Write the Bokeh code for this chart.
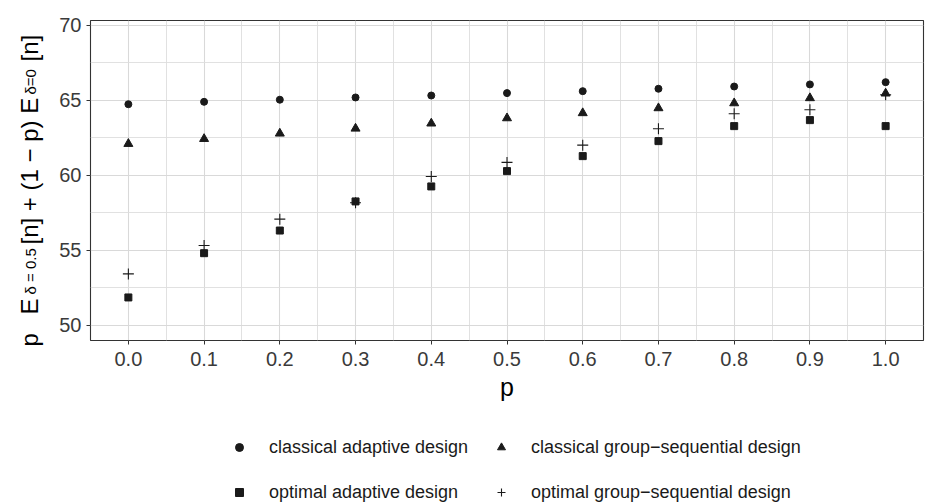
import math
from bokeh.plotting import figure
from bokeh.layouts import column, row
from bokeh.models import Range1d, FixedTicker, Legend, LegendItem, Label, NumeralTickFormatter
from bokeh.embed import file_html
from bokeh.resources import INLINE

# ---- data ----
p_values = [0.0, 0.1, 0.2, 0.3, 0.4, 0.5, 0.6, 0.7, 0.8, 0.9, 1.0]
classical_adaptive = [64.75, 64.91, 65.05, 65.20, 65.33, 65.49, 65.62, 65.78, 65.93, 66.07, 66.22]
classical_group_sequential = [62.11, 62.44, 62.80, 63.13, 63.47, 63.82, 64.16, 64.49, 64.82, 65.16, 65.47]
optimal_adaptive = [51.87, 54.82, 56.33, 58.27, 59.27, 60.29, 61.29, 62.29, 63.29, 63.69, 63.29]
optimal_group_sequential = [53.44, 55.33, 57.09, 58.18, 59.93, 60.87, 62.02, 63.11, 64.11, 64.38, 65.38]

series_labels = ["classical adaptive design", "classical group\u2212sequential design",
                 "optimal adaptive design", "optimal group\u2212sequential design"]

x_ticks = [0.0, 0.1, 0.2, 0.3, 0.4, 0.5, 0.6, 0.7, 0.8, 0.9, 1.0]
x_tick_labels = ["0.0", "0.1", "0.2", "0.3", "0.4", "0.5", "0.6", "0.7", "0.8", "0.9", "1.0"]
x_minor = [0.05, 0.15, 0.25, 0.35, 0.45, 0.55, 0.65, 0.75, 0.85, 0.95]
y_ticks = [50, 55, 60, 65, 70]
y_tick_labels = ["50", "55", "60", "65", "70"]
y_minor = [52.5, 57.5, 62.5, 67.5]

x_title = "p"
# y title pieces: (text, is_subscript)
y_title_parts = [("p", False), ("E", False), ("\u03b4 = 0.5", True),
                 ("[n] + (1 \u2212 p) E", False), ("\u03b4=0", True), ("[n]", False)]

# ---- layout constants ----
FONT = "Liberation Sans"
W, H = 926, 504
TITLE_W = 45            # width of the strip holding the y title
MAIN_H = 420            # height of main plot
LEG_H = H - MAIN_H      # height of legend strip
LEFT, RIGHT, TOP = 90, 3, 20
FRAME_BOTTOM = 340
X0, X1 = -0.05, 1.05
Y0, Y1 = 49.0, 70.33
INK = "#1a1a1a"

# ---- main plot ----
p = figure(width=W - TITLE_W, height=MAIN_H, output_backend="svg", toolbar_location=None,
           x_range=Range1d(X0, X1), y_range=Range1d(Y0, Y1),
           min_border_left=LEFT - TITLE_W, min_border_right=RIGHT,
           min_border_top=TOP, min_border_bottom=MAIN_H - FRAME_BOTTOM)
p.background_fill_color = "white"
p.border_fill_color = "white"
p.outline_line_color = "#333333"
p.outline_line_width = 1.1

p.xgrid.ticker = FixedTicker(ticks=x_ticks, minor_ticks=x_minor)
p.ygrid.ticker = FixedTicker(ticks=y_ticks, minor_ticks=y_minor)
for g in (p.xgrid, p.ygrid):
    g.grid_line_color = "#d9d9d9"
    g.grid_line_width = 1.1
    g.minor_grid_line_color = "#dedede"
    g.minor_grid_line_width = 0.9

p.xaxis.ticker = FixedTicker(ticks=x_ticks, minor_ticks=x_minor)
p.xaxis.formatter = NumeralTickFormatter(format="0.0")
p.xaxis.major_label_overrides = {t: l for t, l in zip(x_ticks, x_tick_labels)}
p.yaxis.ticker = FixedTicker(ticks=y_ticks, minor_ticks=y_minor)
p.yaxis.major_label_overrides = {t: l for t, l in zip(y_ticks, y_tick_labels)}
for ax in (p.xaxis, p.yaxis):
    ax.axis_line_color = None
    ax.major_tick_line_color = "#333333"
    ax.major_tick_in = 0
    ax.major_tick_out = 4
    ax.minor_tick_in = 0
    ax.minor_tick_out = 0
    ax.major_label_text_font = FONT
    ax.major_label_text_font_size = "20px"
    ax.major_label_text_color = "#3a3a3a"
p.xaxis.major_label_standoff = 7
p.yaxis.major_label_standoff = 5
p.xaxis.axis_label = x_title
p.xaxis.axis_label_text_font = FONT
p.xaxis.axis_label_text_font_size = "25px"
p.xaxis.axis_label_text_font_style = "normal"
p.xaxis.axis_label_text_color = "black"
p.xaxis.axis_label_standoff = 4

MARKERS = [("circle", 7), ("triangle", 9), ("square", 7), ("cross", 11)]
series = [classical_adaptive, classical_group_sequential, optimal_adaptive, optimal_group_sequential]

def add_series(fig, mk, sz, ys):
    if mk == "cross":
        return fig.scatter(p_values, ys, marker=mk, size=sz, line_color=INK, line_width=1.1)
    return fig.scatter(p_values, ys, marker=mk, size=sz, fill_color=INK, line_color=INK)

for (mk, sz), ys in zip(MARKERS, series):
    add_series(p, mk, sz, ys)

# ---- y title strip ----
t = figure(width=TITLE_W, height=MAIN_H, output_backend="svg", toolbar_location=None,
           x_range=Range1d(0, TITLE_W), y_range=Range1d(0, MAIN_H),
           x_axis_location=None, y_axis_location=None, min_border=0)
t.outline_line_color = None
t.grid.visible = False
t.background_fill_color = "white"
t.border_fill_color = "white"
starts = [346, 314, 294, 244, 94, 61]   # screen px (from top) where each piece begins
for (txt, sub), sp in zip(y_title_parts, starts):
    t.add_layout(Label(x=30 if sub else 28.5, y=MAIN_H - sp, text=txt,
                       angle=math.pi / 2, text_align="left", text_baseline="middle",
                       text_font=FONT, text_font_size="15px" if sub else "24px",
                       text_color="black"))

# ---- legend strip ----
# proxy renderers carry the same series, but lie outside this strip's visible x range
lg = figure(width=W, height=LEG_H, output_backend="svg", toolbar_location=None,
            x_range=Range1d(10, 10 + W), y_range=Range1d(0, LEG_H),
            x_axis_location=None, y_axis_location=None, min_border=0)
lg.outline_line_color = None
lg.grid.visible = False
lg.background_fill_color = "white"
lg.border_fill_color = "white"
proxies = [add_series(lg, mk, sz, ys) for (mk, sz), ys in zip(MARKERS, series)]

def make_legend(idx, x_px):
    leg = Legend(items=[LegendItem(label=series_labels[i], renderers=[proxies[i]]) for i in idx],
                 location=(x_px, 0), orientation="vertical")
    leg.label_text_font = FONT
    leg.label_text_font_size = "18px"
    leg.label_text_color = INK
    leg.glyph_width = 20
    leg.glyph_height = 24
    leg.label_height = 24
    leg.label_standoff = 20
    leg.spacing = 21
    leg.padding = 0
    leg.margin = 0
    leg.border_line_color = None
    leg.background_fill_alpha = 0
    return leg

lg.add_layout(make_legend([0, 2], 229))
lg.add_layout(make_legend([1, 3], 491))

layout = column(row(column(t), p, spacing=0), lg, spacing=0)
open("out.html", "w").write(file_html(layout, INLINE))
